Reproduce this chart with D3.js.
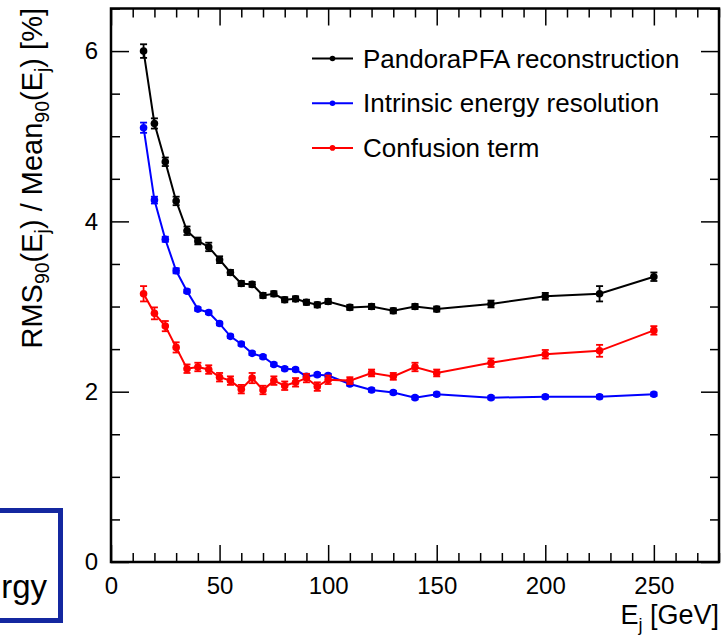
<!DOCTYPE html>
<html>
<head>
<meta charset="utf-8">
<script src="https://cdn.jsdelivr.net/npm/d3@7"></script>
<style>
  body { margin: 0; background: #fff; }
  svg { display: block; font-family: "Liberation Sans", Arial, Helvetica, sans-serif; }
</style>
</head>
<body>
<script>
const w = 723;
const h = 637;
const frame = { left: 111, right: 719, top: 8.5, bottom: 562 };

// jet energy in GeV
const energies = [15, 20, 25, 30, 35, 40, 45, 50, 55, 60, 65, 70, 75, 80, 85, 90, 95, 100,
  110, 120, 130, 140, 150, 175, 200, 225, 250];

// RMS90 / Mean90 [%]
const pandora = [6.00, 5.15, 4.70, 4.24, 3.89, 3.77, 3.70, 3.55, 3.40, 3.27, 3.26, 3.13, 3.15,
  3.08, 3.09, 3.05, 3.02, 3.06, 2.99, 3.00, 2.95, 3.00, 2.97, 3.03, 3.12, 3.15, 3.35];
const pandoraErr = [0.08, 0.06, 0.05, 0.05, 0.05, 0.04, 0.05, 0.04, 0.03, 0.03, 0.03, 0.03, 0.03,
  0.03, 0.03, 0.03, 0.03, 0.03, 0.03, 0.03, 0.03, 0.03, 0.03, 0.04, 0.04, 0.09, 0.05];

const intrinsic = [5.10, 4.25, 3.79, 3.42, 3.18, 2.97, 2.93, 2.80, 2.65, 2.56, 2.45, 2.41, 2.32,
  2.27, 2.26, 2.18, 2.20, 2.19, 2.09, 2.02, 1.99, 1.93, 1.97, 1.93, 1.94, 1.94, 1.97];
const intrinsicErr = [0.06, 0.04, 0.03, 0.03, 0.02, 0.02, 0.02, 0.02, 0.02, 0.02, 0.02, 0.02, 0.02,
  0.02, 0.02, 0.02, 0.02, 0.02, 0.02, 0.02, 0.02, 0.02, 0.02, 0.02, 0.02, 0.02, 0.02];

const confusion = [3.15, 2.92, 2.77, 2.52, 2.27, 2.29, 2.26, 2.17, 2.13, 2.03, 2.16, 2.02, 2.13,
  2.07, 2.11, 2.16, 2.06, 2.14, 2.13, 2.22, 2.18, 2.29, 2.22, 2.34, 2.44, 2.48, 2.72];
const confusionErr = [0.09, 0.07, 0.06, 0.06, 0.05, 0.05, 0.05, 0.05, 0.05, 0.05, 0.06, 0.05, 0.05,
  0.05, 0.05, 0.05, 0.05, 0.05, 0.04, 0.04, 0.04, 0.05, 0.04, 0.05, 0.05, 0.07, 0.05];

const seriesNames = ["PandoraPFA reconstruction", "Intrinsic energy resolution", "Confusion term"];
const seriesColors = ["#000000", "#0000ff", "#ff0000"];

const xMajor = [0, 50, 100, 150, 200, 250];
const yMajor = [0, 2, 4, 6];

const series = [
  { name: seriesNames[0], color: seriesColors[0], values: pandora, errs: pandoraErr },
  { name: seriesNames[1], color: seriesColors[1], values: intrinsic, errs: intrinsicErr },
  { name: seriesNames[2], color: seriesColors[2], values: confusion, errs: confusionErr }
];

const x = d3.scaleLinear().domain([0, 280]).range([frame.left, frame.right]);
const y = d3.scaleLinear().domain([0, 6.5]).range([frame.bottom, frame.top]);

const svg = d3.select("body").append("svg").attr("width", w).attr("height", h);

// cropped slide box in the corner
svg.append("rect")
  .attr("x", -10).attr("y", 510.5)
  .attr("width", 70.5).attr("height", 110)
  .attr("fill", "none").attr("stroke", "#1428a0").attr("stroke-width", 5);
svg.append("text")
  .attr("x", 47).attr("y", 598)
  .attr("text-anchor", "end")
  .attr("font-size", 33)
  .text("rgy");

// ticks (ROOT style, pointing inward on all four sides)
const xMinor = d3.range(0, 281, 10).filter((v) => v % 50 !== 0);
const yMinor = d3.range(0, 6.51, 0.5).filter((v) => v % 2 !== 0);

function styleTicks(g) {
  g.select(".domain").remove();
  g.selectAll(".tick line").attr("stroke", "#000").attr("stroke-width", 1.5);
}

svg.append("g")
  .attr("transform", `translate(0,${frame.bottom})`)
  .call(d3.axisBottom(x).tickValues(xMajor).tickSize(-17).tickPadding(15).tickFormat(d3.format("d")))
  .call(styleTicks)
  .call((g) => g.selectAll("text").attr("font-size", 24).attr("fill", "#000").attr("font-family", null));
svg.append("g")
  .attr("transform", `translate(0,${frame.bottom})`)
  .call(d3.axisBottom(x).tickValues(xMinor).tickSize(-9).tickFormat(""))
  .call(styleTicks);
svg.append("g")
  .attr("transform", `translate(0,${frame.top})`)
  .call(d3.axisTop(x).tickValues(xMajor).tickSize(-17).tickFormat(""))
  .call(styleTicks);
svg.append("g")
  .attr("transform", `translate(0,${frame.top})`)
  .call(d3.axisTop(x).tickValues(xMinor).tickSize(-9).tickFormat(""))
  .call(styleTicks);

svg.append("g")
  .attr("transform", `translate(${frame.left},0)`)
  .call(d3.axisLeft(y).tickValues(yMajor).tickSize(-18).tickPadding(13).tickFormat(d3.format("d")))
  .call(styleTicks)
  .call((g) => g.selectAll("text").attr("font-size", 24).attr("fill", "#000").attr("font-family", null));
svg.append("g")
  .attr("transform", `translate(${frame.left},0)`)
  .call(d3.axisLeft(y).tickValues(yMinor).tickSize(-9).tickFormat(""))
  .call(styleTicks);
svg.append("g")
  .attr("transform", `translate(${frame.right},0)`)
  .call(d3.axisRight(y).tickValues(yMajor).tickSize(-18).tickFormat(""))
  .call(styleTicks);
svg.append("g")
  .attr("transform", `translate(${frame.right},0)`)
  .call(d3.axisRight(y).tickValues(yMinor).tickSize(-9).tickFormat(""))
  .call(styleTicks);

// frame
svg.append("rect")
  .attr("x", frame.left).attr("y", frame.top)
  .attr("width", frame.right - frame.left).attr("height", frame.bottom - frame.top)
  .attr("fill", "none").attr("stroke", "#000").attr("stroke-width", 2.5);

// series: line, error bars, markers
const line = d3.line().x((d) => x(d.e)).y((d) => y(d.v));

series.forEach((s) => {
  const pts = energies.map((e, i) => ({ e, v: s.values[i], err: s.errs[i] }));
  const g = svg.append("g");

  g.append("path")
    .datum(pts)
    .attr("d", line)
    .attr("fill", "none")
    .attr("stroke", s.color)
    .attr("stroke-width", 2);

  const eb = g.selectAll(".err").data(pts).enter().append("g").attr("class", "err")
    .attr("stroke", s.color).attr("stroke-width", 1.8);
  eb.append("line")
    .attr("x1", (d) => x(d.e)).attr("x2", (d) => x(d.e))
    .attr("y1", (d) => y(d.v - d.err)).attr("y2", (d) => y(d.v + d.err));
  eb.append("line")
    .attr("x1", (d) => x(d.e) - 3.5).attr("x2", (d) => x(d.e) + 3.5)
    .attr("y1", (d) => y(d.v - d.err)).attr("y2", (d) => y(d.v - d.err));
  eb.append("line")
    .attr("x1", (d) => x(d.e) - 3.5).attr("x2", (d) => x(d.e) + 3.5)
    .attr("y1", (d) => y(d.v + d.err)).attr("y2", (d) => y(d.v + d.err));

  g.selectAll("circle").data(pts).enter().append("circle")
    .attr("cx", (d) => x(d.e))
    .attr("cy", (d) => y(d.v))
    .attr("r", 3.8)
    .attr("fill", s.color);
});

// legend
const legend = svg.append("g");
series.forEach((s, i) => {
  const ly = 58.5 + i * 44.7;
  legend.append("line")
    .attr("x1", 312).attr("x2", 353).attr("y1", ly).attr("y2", ly)
    .attr("stroke", s.color).attr("stroke-width", 2);
  legend.append("circle")
    .attr("cx", 332.5).attr("cy", ly).attr("r", 2.8).attr("fill", s.color);
  legend.append("text")
    .attr("x", 363).attr("y", ly + 9)
    .attr("font-size", 26)
    .text(s.name);
});

// axis titles
const xt = svg.append("text")
  .attr("x", 719).attr("y", 624)
  .attr("text-anchor", "end")
  .attr("font-size", 27);
xt.append("tspan").text("E");
xt.append("tspan").attr("font-size", 18).attr("dy", 7).text("j");
xt.append("tspan").attr("dy", -7).text("  [GeV]");

const yt = svg.append("text")
  .attr("transform", "translate(42,8) rotate(-90)")
  .attr("text-anchor", "end")
  .attr("font-size", 29);
yt.append("tspan").text("RMS");
yt.append("tspan").attr("font-size", 19.5).attr("dy", 7).text("90");
yt.append("tspan").attr("dy", -7).text("(E");
yt.append("tspan").attr("font-size", 19.5).attr("dy", 7).text("j");
yt.append("tspan").attr("dy", -7).text(") / Mean");
yt.append("tspan").attr("font-size", 19.5).attr("dy", 7).text("90");
yt.append("tspan").attr("dy", -7).text("(E");
yt.append("tspan").attr("font-size", 19.5).attr("dy", 7).text("j");
yt.append("tspan").attr("dy", -7).text(") [%]");
</script>
</body>
</html>
